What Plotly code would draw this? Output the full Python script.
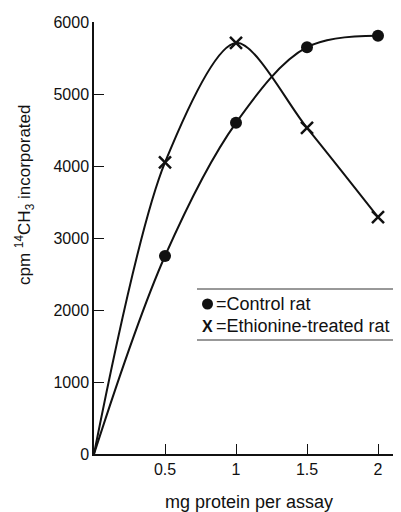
import plotly.graph_objects as go

# Data
protein_mg = [0, 0.5, 1, 1.5, 2]
control_cpm = [0, 2750, 4600, 5650, 5810]
ethionine_cpm = [0, 4050, 5710, 4530, 3290]

x_tick_vals = [0.5, 1, 1.5, 2]
x_tick_text = ["0.5", "1", "1.5", "2"]
y_tick_vals = [0, 1000, 2000, 3000, 4000, 5000, 6000]

legend_labels = ["=Control rat", "=Ethionine-treated rat"]

FONT = "Liberation Sans, Arial, Helvetica, sans-serif"
INK = "#111111"

fig = go.Figure()

fig.add_trace(go.Scatter(
    x=protein_mg, y=control_cpm, mode="lines",
    line=dict(color=INK, width=2, shape="spline", smoothing=1.0),
    showlegend=False, hoverinfo="skip"))
fig.add_trace(go.Scatter(
    x=protein_mg[1:], y=control_cpm[1:], mode="markers",
    marker=dict(symbol="circle", size=12, color=INK),
    showlegend=False))

fig.add_trace(go.Scatter(
    x=protein_mg, y=ethionine_cpm, mode="lines",
    line=dict(color=INK, width=2, shape="spline", smoothing=0.85),
    showlegend=False, hoverinfo="skip"))
fig.add_trace(go.Scatter(
    x=protein_mg[1:], y=ethionine_cpm[1:], mode="markers",
    marker=dict(symbol="x-thin-open", size=12, color=INK,
                line=dict(color=INK, width=2.5)),
    showlegend=False))

# The page body has an 8px default margin, so the figure is shrunk by that much
# and window-pixel positions below are converted accordingly.
WIN_W, WIN_H = 401, 512
OFF = 8
W, H = WIN_W - OFF, WIN_H - OFF
PL, PR, PT, PB = 94, 401, 22, 454   # plot area in window pixels
pw, ph = PR - PL, PB - PT

def px_x(p):
    return (p - PL) / pw

def px_y(p):
    return (PB - p) / ph

fig.update_layout(
    width=W, height=H,
    margin=dict(l=PL - OFF, r=WIN_W - PR, t=PT - OFF, b=WIN_H - PB),
    paper_bgcolor="white", plot_bgcolor="white",
    font=dict(family=FONT, color=INK, size=16),
    xaxis=dict(range=[0, pw / 142.0], tickvals=x_tick_vals, ticktext=x_tick_text,
               ticks="inside", ticklen=10, tickwidth=1.3, tickcolor=INK,
               showline=True, linecolor=INK, linewidth=1.5, automargin=False,
               showgrid=False, zeroline=False, tickfont=dict(size=16)),
    yaxis=dict(range=[0, 6000], tickvals=y_tick_vals,
               ticks="inside", ticklen=10, tickwidth=1.3, tickcolor=INK,
               showline=True, linecolor=INK, linewidth=1.5, automargin=False,
               showgrid=False, zeroline=False, tickfont=dict(size=16)),
    showlegend=False,
)

# axis titles
fig.add_annotation(text="mg protein per assay", xref="paper", yref="paper",
                   x=px_x(249), y=px_y(502), showarrow=False,
                   xanchor="center", yanchor="middle", font=dict(size=18))
fig.add_annotation(text="cpm <sup>14</sup>CH<sub>3</sub> incorporated",
                   xref="paper", yref="paper", x=px_x(25), y=px_y(195),
                   textangle=-90, showarrow=False,
                   xanchor="center", yanchor="middle", font=dict(size=17))

# legend box: rules above and below
for py in (289, 340):
    fig.add_shape(type="line", xref="paper", yref="paper",
                  x0=px_x(197), x1=1.0, y0=px_y(py), y1=px_y(py),
                  line=dict(color="#333333", width=1))

# legend symbols
fig.add_shape(type="circle", xref="paper", yref="paper",
              xsizemode="pixel", ysizemode="pixel",
              xanchor=px_x(207.5), yanchor=px_y(304),
              x0=-5.5, x1=5.5, y0=-5.5, y1=5.5,
              fillcolor=INK, line=dict(color=INK, width=0))
fig.add_annotation(text="<b>X</b>", xref="paper", yref="paper",
                   x=px_x(200), y=px_y(326), showarrow=False,
                   xanchor="left", yanchor="middle", font=dict(size=16))
fig.add_annotation(text=legend_labels[0], xref="paper", yref="paper",
                   x=px_x(214), y=px_y(304), showarrow=False,
                   xanchor="left", yanchor="middle", font=dict(size=18))
fig.add_annotation(text=legend_labels[1], xref="paper", yref="paper",
                   x=px_x(214), y=px_y(326), showarrow=False,
                   xanchor="left", yanchor="middle", font=dict(size=18))

fig.write_html("out.html")
